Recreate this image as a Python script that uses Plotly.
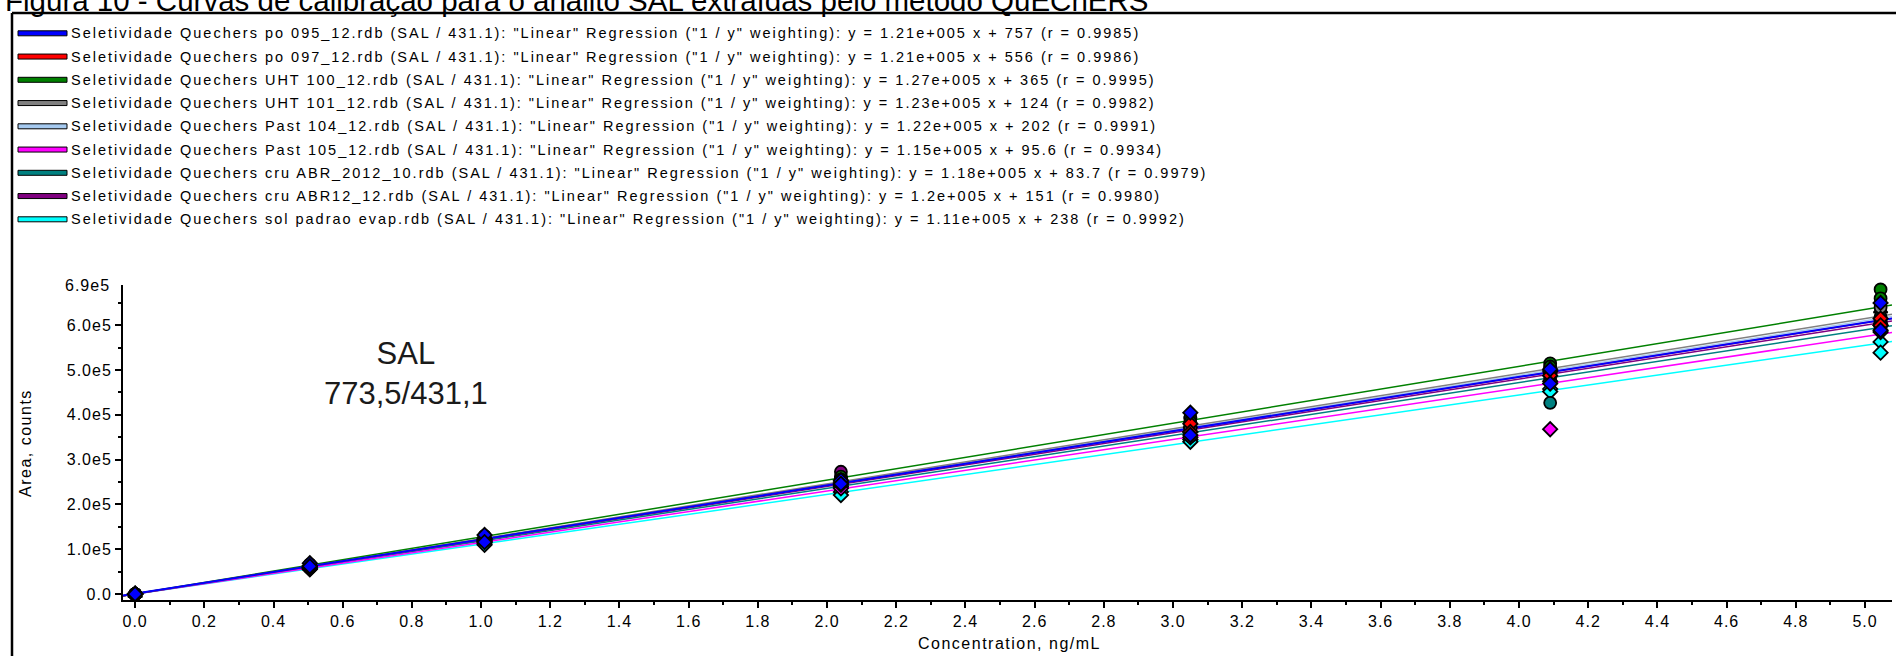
import numpy as np
import plotly.graph_objects as go

# Calibration levels (ng/mL); every level injected in duplicate
conc = [0.0, 0.505, 1.01, 2.04, 3.05, 4.09, 5.045]

sample_files = [
    "po 095_12", "po 097_12", "UHT 100_12", "UHT 101_12", "Past 104_12",
    "Past 105_12", "cru ABR_2012_10", "cru ABR12_12", "sol padrao evap",
]
slopes = [1.21e5, 1.21e5, 1.27e5, 1.23e5, 1.22e5, 1.15e5, 1.18e5, 1.2e5, 1.11e5]
intercepts = [757, 556, 365, 124, 202, 95.6, 83.7, 151, 238]
r_values = ["0.9985", "0.9986", "0.9995", "0.9982", "0.9991", "0.9934", "0.9979", "0.9980", "0.9992"]

# Peak areas (counts), two replicates per level, same order as conc
area_po095 = [0, 0, 69000, 62000, 132000, 116000, 254000, 246000, 405000, 355000, 502000, 470000, 650000, 589000]
area_po097 = [0, 0, 63000, 60000, 124000, 120000, 250000, 244000, 380000, 362000, 498000, 488000, 615000, 600000]
area_uht100 = [0, 0, 66000, 64000, 130000, 127000, 262000, 256000, 392000, 384000, 515000, 508000, 680000, 660000]
area_uht101 = [0, 0, 64000, 60000, 128000, 121000, 258000, 248000, 395000, 370000, 505000, 490000, 640000, 612000]
area_past104 = [0, 0, 63000, 61000, 125000, 122000, 252000, 246000, 378000, 368000, 500000, 492000, 635000, 610000]
area_past105 = [0, 0, 60000, 58000, 121000, 117000, 240000, 236000, 362000, 350000, 475000, 368000, 600000, 585000]
area_cru2012 = [0, 0, 61000, 59000, 122000, 118000, 246000, 238000, 372000, 352000, 490000, 427000, 619000, 598000]
area_cru12 = [0, 0, 62000, 59000, 124000, 119000, 273000, 240000, 381000, 365000, 495000, 480000, 608000, 595000]
area_solpadrao = [0, 0, 57000, 55000, 114000, 110000, 228000, 221000, 345000, 340000, 458000, 452000, 563000, 539000]

areas = [area_po095, area_po097, area_uht100, area_uht101, area_past104,
         area_past105, area_cru2012, area_cru12, area_solpadrao]

colors = ["#0000FF", "#FF0000", "#008000", "#808080", "#A6CAF0",
          "#FF00FF", "#008080", "#800080", "#00FFFF"]
symbols = ["diamond", "diamond", "circle", "circle", "triangle-up",
           "diamond", "circle", "circle", "diamond"]

x_tick_vals = [round(v, 1) for v in np.arange(0, 5.01, 0.2)]
y_tick_vals = [0, 1e5, 2e5, 3e5, 4e5, 5e5, 6e5]
y_tick_text = ["0.0", "1.0e5", "2.0e5", "3.0e5", "4.0e5", "5.0e5", "6.0e5"]
y_top = 6.9e5
y_top_text = "6.9e5"

x_range = [-0.035, 5.078]
y_range = [-13300, y_top]

# page geometry
W, H = 1896, 656
L, R, T, B = 123, 4, 285, 56
PW, PH = W - L - R, H - T - B

FONT = "Arial, Liberation Sans, sans-serif"


def px_x(px):
    return (px - L) / PW


def px_y(py):
    return 1 - (py - T) / PH


def spaced(text, sp):
    return f'<span style="letter-spacing:{sp}px">{text}</span>'


def sci(v):
    return f"{v / 1e5:g}e+005"


conc_rep = [c for c in conc for _ in range(2)]

fig = go.Figure()

# regression lines across the full x-axis span
for i in reversed(range(len(areas))):
    xs = np.array(x_range)
    fig.add_trace(go.Scatter(
        x=xs, y=slopes[i] * xs + intercepts[i], mode="lines",
        line=dict(color=colors[i], width=2 if i == 0 else 1.5),
        hoverinfo="skip", showlegend=False,
    ))

# measured points
for i in reversed(range(len(areas))):
    sz = 11 if symbols[i] == "diamond" else 12
    fig.add_trace(go.Scatter(
        x=conc_rep, y=areas[i], mode="markers", cliponaxis=False,
        marker=dict(symbol=symbols[i], size=sz, color=colors[i],
                    line=dict(color="black", width=1.8)),
        showlegend=False,
    ))

shapes = []
annotations = []

# outer frame
frame_x, frame_y = 12, 13
shapes.append(dict(type="line", xref="paper", yref="paper",
                   x0=px_x(frame_x), x1=px_x(W + 5), y0=px_y(frame_y), y1=px_y(frame_y),
                   line=dict(color="black", width=2.5)))
shapes.append(dict(type="line", xref="paper", yref="paper",
                   x0=px_x(frame_x), x1=px_x(frame_x), y0=px_y(frame_y), y1=px_y(H + 5),
                   line=dict(color="black", width=2.5)))

# caption above the frame
annotations.append(dict(
    text="Figura 10 - Curvas de calibração para o analito SAL extraídas pelo método QuEChERS",
    xref="paper", yref="paper", x=px_x(3), y=px_y(19), xanchor="left", yanchor="bottom",
    showarrow=False, font=dict(family=FONT, size=29.5, color="black")))

# legend rows
row0, row_step = 33.3, 23.25
for i, name in enumerate(sample_files):
    yc = row0 + row_step * i
    shapes.append(dict(type="rect", xref="paper", yref="paper",
                       x0=px_x(18), x1=px_x(67), y0=px_y(yc - 2.5), y1=px_y(yc + 2.5),
                       fillcolor=colors[i], line=dict(color="black", width=1)))
    label = (f'Seletividade Quechers {name}.rdb (SAL / 431.1): "Linear" Regression '
             f'("1 / y" weighting): y = {sci(slopes[i])} x + {intercepts[i]:g} (r = {r_values[i]})')
    annotations.append(dict(
        text=spaced(label, 2.0), xref="paper", yref="paper",
        x=px_x(69), y=px_y(yc), xanchor="left", yanchor="middle",
        showarrow=False, font=dict(family=FONT, size=14.5, color="black")))

# analyte label
annotations.append(dict(
    text="SAL<br>773,5/431,1", xref="paper", yref="paper",
    x=px_x(406), y=px_y(373), xanchor="center", yanchor="middle",
    showarrow=False, align="center",
    font=dict(family=FONT, size=31, color="#1a1a1a")))

# axis titles
annotations.append(dict(
    text=spaced("Concentration, ng/mL", 1.5), xref="paper", yref="paper",
    x=px_x(1009), y=px_y(643), xanchor="center", yanchor="middle",
    showarrow=False, font=dict(family=FONT, size=16, color="black")))
annotations.append(dict(
    text=spaced("Area, counts", 1.5), xref="paper", yref="paper",
    x=px_x(25), y=px_y(443), xanchor="center", yanchor="middle", textangle=-90,
    showarrow=False, font=dict(family=FONT, size=16, color="black")))

# top label of the y axis
annotations.append(dict(
    text=spaced(y_top_text, 1), xref="paper", yref="y",
    x=px_x(112), y=y_top, xanchor="right", yanchor="middle",
    showarrow=False, font=dict(family=FONT, size=16, color="black")))

fig.update_layout(
    width=W, height=H,
    margin=dict(l=L, r=R, t=T, b=B, pad=0),
    paper_bgcolor="white", plot_bgcolor="white",
    showlegend=False,
    shapes=shapes, annotations=annotations,
    xaxis=dict(
        range=x_range, showgrid=False, zeroline=False,
        showline=True, linecolor="black", linewidth=2,
        ticks="outside", ticklen=6, tickwidth=1.5, tickcolor="black",
        tickmode="array", tickvals=x_tick_vals,
        ticktext=[spaced(f"{v:.1f}", 1) for v in x_tick_vals],
        tickfont=dict(family=FONT, size=16, color="black"),
        minor=dict(ticks="outside", ticklen=3, tickwidth=1.5, tickcolor="black",
                   tickmode="array", tickvals=[round(v + 0.1, 1) for v in x_tick_vals[:-1]]),
        fixedrange=True,
    ),
    yaxis=dict(
        range=y_range, showgrid=False, zeroline=False,
        showline=True, linecolor="black", linewidth=2,
        ticks="outside", ticklen=6, tickwidth=1.5, tickcolor="black",
        tickmode="array", tickvals=y_tick_vals,
        ticktext=[spaced(t, 1) for t in y_tick_text],
        tickfont=dict(family=FONT, size=16, color="black"),
        minor=dict(ticks="outside", ticklen=3, tickwidth=1.5, tickcolor="black",
                   tickmode="array", tickvals=[v + 5e4 for v in y_tick_vals]),
        fixedrange=True,
    ),
)

fig.write_html("out.html")
